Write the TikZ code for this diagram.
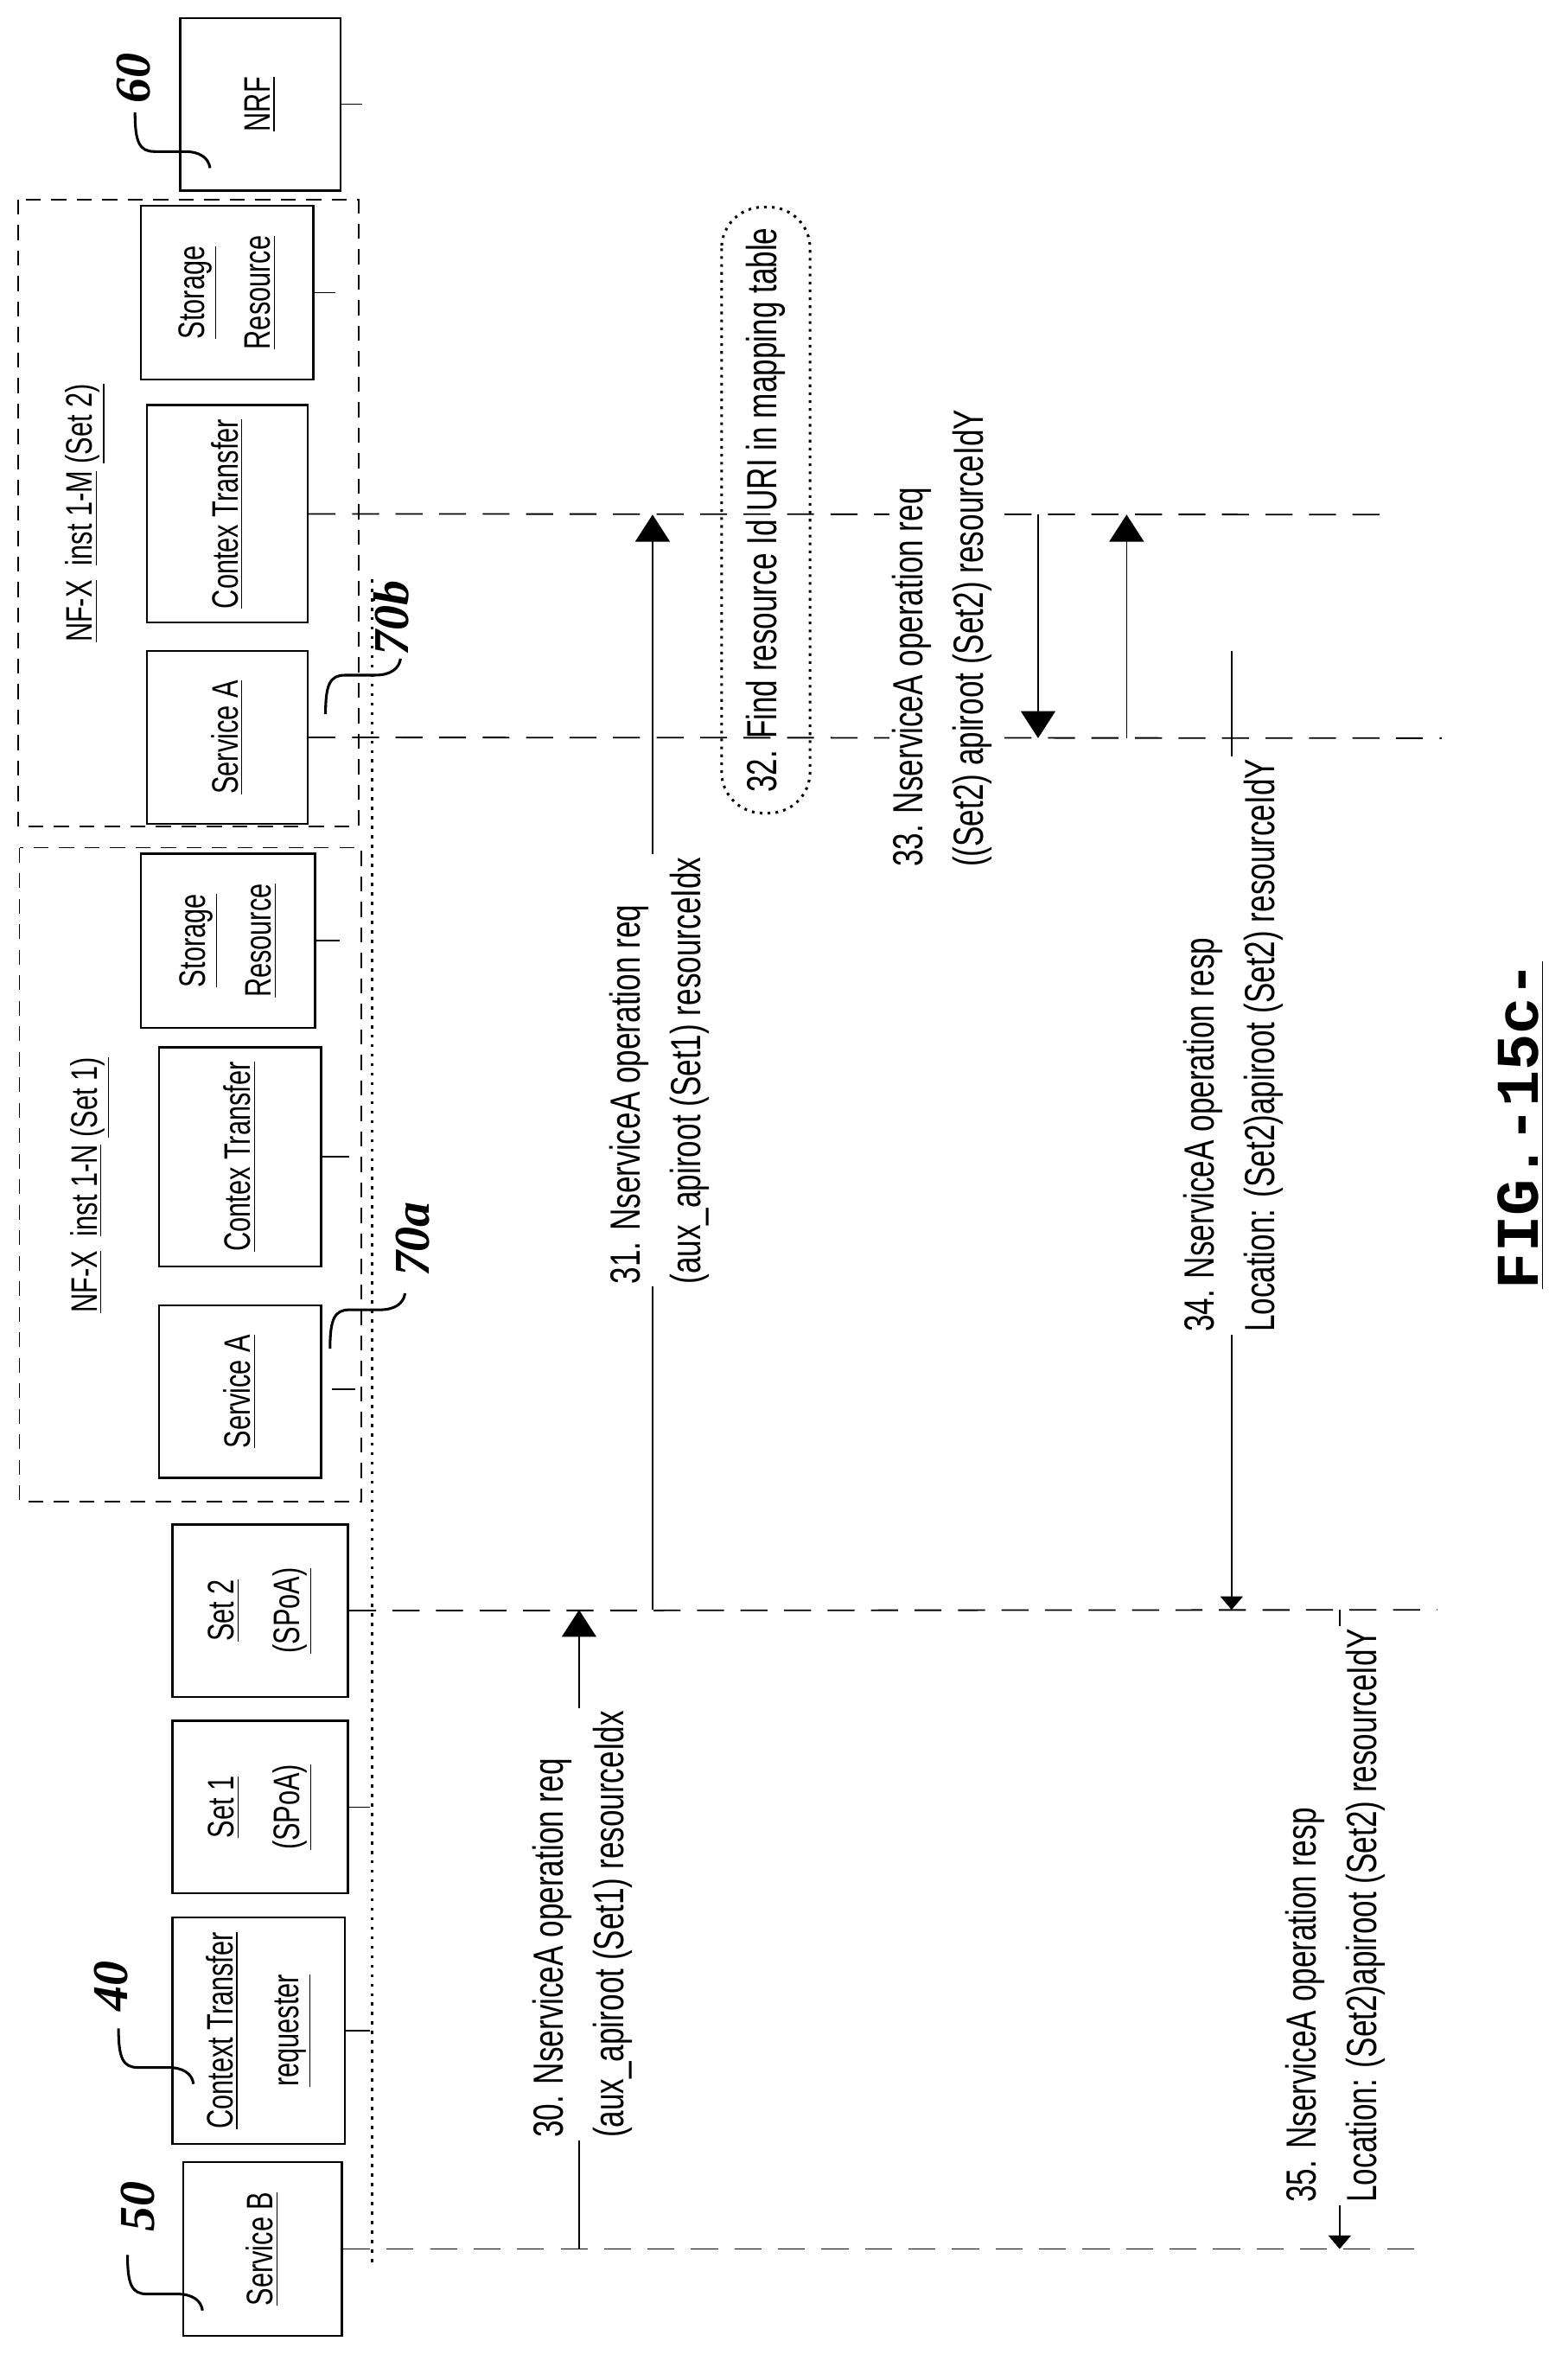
\documentclass[tikz,border=0pt]{standalone}
\usepackage{fontspec}
\setmainfont{Liberation Sans}[FakeStretch=0.72]
\newfontfamily\numfont{Liberation Serif}
\newfontfamily\figfont{Liberation Mono}
\usetikzlibrary{arrows.meta}

\tikzset{
  box/.style={draw, line width=0.8pt, rotate=90, align=center, inner sep=1pt,
    font=\fontsize{14}{25}\selectfont},
  life/.style={line width=0.6pt, dash pattern=on 0.36cm off 0.22cm},
  group/.style={line width=0.6pt, dash pattern=on 0.2cm off 0.14cm},
  msg/.style={line width=0.5pt},
  big/.style={-{Triangle[width=0.46cm,length=0.36cm]}},
  small/.style={-{Triangle[width=0.3cm,length=0.18cm]}},
  lbl/.style={rotate=90, anchor=west, align=left, fill=white, inner sep=1pt,
    font=\fontsize{16}{23}\selectfont},
  refnum/.style={rotate=90, font=\numfont\bfseries\itshape\fontsize{19}{19}\selectfont},
  leader/.style={line width=1pt},
  pics/squig/.style={code={
    \draw[leader] (0,0) .. controls (0,20) and (3,26) .. (13,26) -- (33,26)
      .. controls (43,26) and (49,30) .. (50,37);}},
}

\begin{document}
\begin{tikzpicture}[x=0.02cm, y=-0.02cm]
  \useasboundingbox (0,0) rectangle (1045,1569);

  % instance groups
  \draw[group] (12,133) rectangle (239,551);
  \draw[group] (13,565) rectangle (241,1001);
  \node[rotate=90, font=\fontsize{14}{14}\selectfont] (grp2) at (57,342) {\underline{NF-X} \ \underline{inst 1-M} \underline{(Set 2)}};
  \node[rotate=90, font=\fontsize{14}{14}\selectfont] (grp1) at (60,790) {\underline{NF-X} \ \underline{inst 1-N} \underline{(Set 1)}};

  % entities
  \node[box, minimum width=2.3cm, minimum height=2.14cm] (nrf) at (173.5,69.5) {\underline{NRF}};
  \node[box, minimum width=2.32cm, minimum height=2.3cm] (stor2) at (151.5,195) {\underline{Storage}\\\underline{Resource}};
  \node[box, minimum width=2.9cm, minimum height=2.14cm] (ctx2) at (151.5,342.5) {\underline{Contex Transfer}};
  \node[box, minimum width=2.3cm, minimum height=2.14cm] (svc2) at (151.5,491.5) {\underline{Service A}};
  \node[box, minimum width=2.32cm, minimum height=2.32cm] (stor1) at (152,627) {\underline{Storage}\\\underline{Resource}};
  \node[box, minimum width=2.92cm, minimum height=2.16cm] (ctx1) at (160,771) {\underline{Contex Transfer}};
  \node[box, minimum width=2.3cm, minimum height=2.16cm] (svc1) at (160,927.5) {\underline{Service A}};
  \node[box, minimum width=2.3cm, minimum height=2.34cm] (set2) at (173.5,1073.5) {\underline{Set 2}\\\underline{(SPoA)}};
  \node[box, minimum width=2.3cm, minimum height=2.34cm] (set1) at (173.5,1204.5) {\underline{Set 1}\\\underline{(SPoA)}};
  \node[box, minimum width=3.02cm, minimum height=2.3cm] (req) at (172.5,1353.5) {\underline{Context Transfer}\\\underline{requester}};
  \node[box, minimum width=2.32cm, minimum height=2.12cm] (svcb) at (175,1499) {\underline{Service B}};

  % step 32 box
  \node[draw, dotted, line width=1pt, rounded corners=0.55cm, rotate=90,
    minimum width=8.08cm, minimum height=1.18cm, font=\fontsize{16}{16}\selectfont]
    (find) at (510.5,340) {32. Find resource Id URI in mapping table};

  % lifelines and stubs
  \coordinate (ctx2e) at (929,343);
  \coordinate (svc2e) at (961,492);
  \coordinate (set2e) at (958,1073);
  \coordinate (svcbe) at (945,1499);
  \draw[life] (ctx2.south) -- (ctx2e);
  \draw[life] (svc2.south) -- (svc2e);
  \draw[life] (set2.south) -- (set2e);
  \draw[life] (svcb.south) -- (svcbe);
  \draw[line width=0.5pt] (nrf.south) -- ++(14,0);
  \draw[line width=0.5pt] (stor2.south) -- ++(14,0);
  \draw[line width=0.5pt] (stor1.south) -- ++(16,0);
  \draw[life] (ctx1.south) -- ++(26,0);
  \draw[line width=0.5pt] (221,926) -- (237,926);
  \draw[line width=0.5pt] (set1.south) -- ++(14,0);
  \draw[line width=0.5pt] (req.south) -- ++(16,0);
  \draw[line width=1.2pt, dash pattern=on 1.2pt off 2.4pt] (248,386) -- (248,1508);

  % messages
  \coordinate (m30a) at (386,1499);  \coordinate (m30b) at (386,1073);
  \coordinate (m31a) at (435,1073);  \coordinate (m31b) at (435,343);
  \coordinate (m33a) at (692,343);   \coordinate (m33b) at (692,492);
  \coordinate (m33ra) at (751,492);  \coordinate (m33rb) at (751,343);
  \coordinate (m34a) at (821,434);   \coordinate (m34b) at (821,1073);
  \coordinate (m35a) at (893,1073);  \coordinate (m35b) at (893,1499);
  \draw[msg, big] (m30a) -- (m30b);
  \draw[msg, big] (m31a) -- (m31b);
  \draw[msg, big] (m33a) -- (m33b);
  \draw[msg, big] (m33ra) -- (m33rb);
  \draw[msg, small] (m34a) -- (m34b);
  \draw[msg, small] (m35a) -- (m35b);

  \node[lbl] (l30) at (388.5,1427) {30. NserviceA operation req\\(aux\_apiroot (Set1) resourceIdx};
  \node[lbl] (l31) at (439.5,858) {31. NserviceA operation req\\(aux\_apiroot (Set1) resourceIdx};
  \node[lbl] (l33) at (628,580) {33. NserviceA operation req\\((Set2) apiroot (Set2) resourceIdY};
  \node[lbl] (l34) at (822,890) {34. NserviceA operation resp\\Location: (Set2)apiroot (Set2) resourceIdY};
  \node[lbl] (l35) at (890,1470) {35. NserviceA operation resp\\Location: (Set2)apiroot (Set2) resourceIdY};

  % reference numerals
  \node[refnum] (n60) at (89,52) {60};
  \node[refnum] (n40) at (74,1324) {40};
  \node[refnum] (n50) at (92,1471) {50};
  \node[refnum] (n70a) at (275,826) {70a};
  \node[refnum] (n70b) at (261,412) {70b};
  \pic at (90,75) {squig};
  \pic at (79,1352) {squig};
  \pic at (85,1503) {squig};
  \pic[yscale=-1] at (220,899) {squig};
  \pic[yscale=-1] at (217,476) {squig};

  \node[rotate=90, font=\figfont\bfseries\fontsize{23}{23}\selectfont] (fig) at (1014,750) {\underline{FIG.-15c-}};
\end{tikzpicture}
\end{document}
